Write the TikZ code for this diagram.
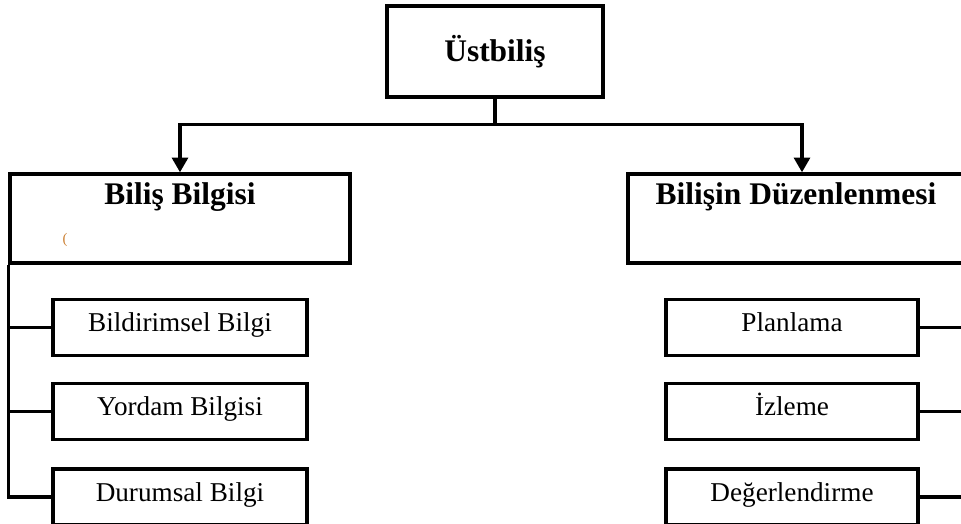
\documentclass[tikz,border=0pt]{standalone}
\usepackage{fontspec}
\setmainfont{Liberation Serif}
\usetikzlibrary{arrows.meta}
\tikzset{
  box/.style={draw=black, line width=2.6pt, inner sep=0pt, fill=white},
  bigbox/.style={box, minimum width=255pt, minimum height=66.75pt},
  smallbox/.style={box, line width=2.4pt, minimum width=190.5pt, minimum height=42pt,
     text height=10pt, text depth=4pt,
     font=\fontsize{20.4}{24}\selectfont},
  title/.style={font=\fontsize{23.6}{28}\selectfont\bfseries},
  conn/.style={draw=black, line width=2.3pt},
  arr/.style={conn, -{Triangle[length=11pt,width=12pt]}}
}
\begin{document}
\begin{tikzpicture}[x=0.75pt,y=-0.75pt]
\useasboundingbox (0,0) rectangle (961,524);
% top
\node[box, minimum width=162pt, minimum height=68.25pt, title] (top) at (495,51.5) {Üstbiliş};
% main boxes
\node[bigbox] (L) at (180,218.5) {};
\node[bigbox, minimum width=261pt] (R) at (802,218.5) {};
\node[title, anchor=base] (Lt) at (180,205) {Biliş Bilgisi};
\node[title, anchor=base] (Rt) at (796,205) {Bilişin Düzenlenmesi};
\node[text=brown!80!orange, font=\fontsize{11}{12}\selectfont] (mark) at (65,240) {(};
% sub boxes left
\node[smallbox] (b1) at (180,327.5) {Bildirimsel Bilgi};
\node[smallbox] (b2) at (180,411.5) {Yordam Bilgisi};
\node[smallbox] (b3) at (180,497) {Durumsal Bilgi};
% sub boxes right
\node[smallbox, minimum width=189pt] (c1) at (792,327.5) {Planlama};
\node[smallbox, minimum width=189pt] (c2) at (792,411.5) {İzleme};
\node[smallbox, minimum width=189pt] (c3) at (792,497) {Değerlendirme};
% connectors
\coordinate (split) at (top.south |- 0,124.5);
\draw[conn] (top.south) -- (split);
\draw[arr] (split) -| (L.north);
\draw[arr] (split) -| (R.north);
\draw[conn] (L.south west) |- (b1.west);
\draw[conn] (L.south west) |- (b2.west);
\draw[conn] (L.south west) |- (b3.west);
\draw[conn] (c1.east) -| (R.south east);
\draw[conn] (c2.east) -| (R.south east);
\draw[conn] (c3.east) -| (R.south east);
\end{tikzpicture}
\end{document}
